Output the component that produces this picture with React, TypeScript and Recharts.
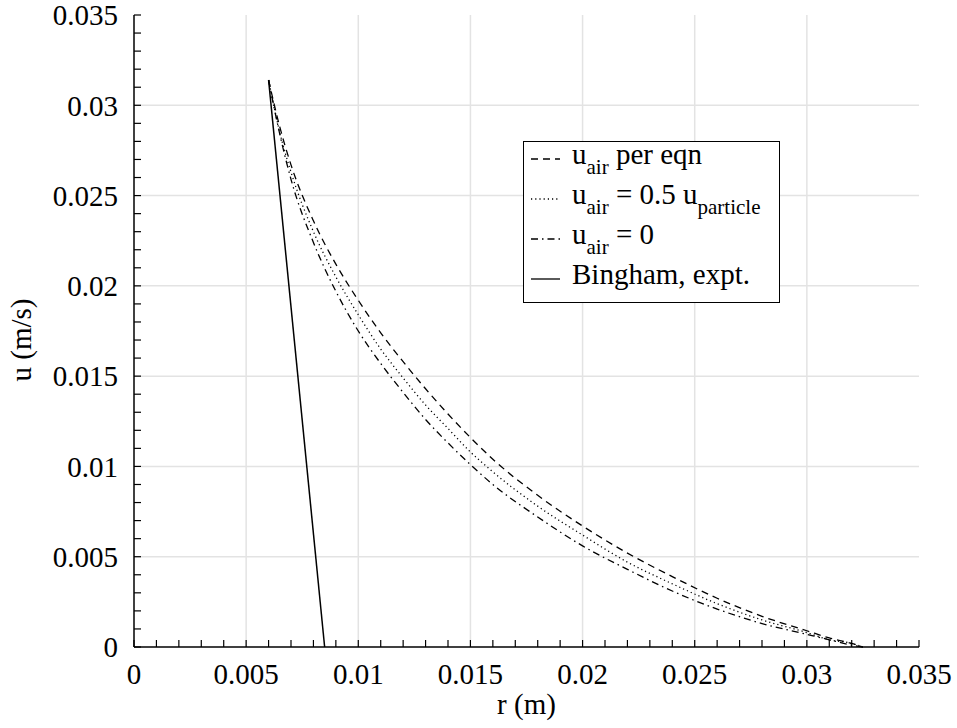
import React from 'react'
import { LineChart, Line, XAxis, YAxis, ReferenceLine } from 'recharts'

// radius values (m) shared by the three model curves
const radius = [0.006, 0.0065, 0.007, 0.008, 0.009, 0.01, 0.011, 0.012, 0.013, 0.014, 0.015, 0.016, 0.018, 0.02, 0.022, 0.024, 0.026, 0.028, 0.03, 0.031, 0.032, 0.0325]
const uAirPerEqn = [0.0314, 0.0288, 0.0267, 0.0236, 0.0212, 0.0192, 0.0174, 0.0158, 0.0143, 0.0129, 0.0116, 0.0104, 0.0084, 0.0067, 0.0052, 0.0039, 0.0027, 0.0017, 0.0009, 0.0005, 0.0002, 0]
const uAirHalf = [0.0314, 0.0285, 0.0263, 0.023, 0.0205, 0.0184, 0.0165, 0.0149, 0.0134, 0.0121, 0.0108, 0.0097, 0.0078, 0.0062, 0.0047, 0.0035, 0.0024, 0.0015, 0.0008, 0.0004, 0.0002, 0]
const uAirZero = [0.0314, 0.0284, 0.0259, 0.0224, 0.0197, 0.0175, 0.0157, 0.0141, 0.0126, 0.0113, 0.0101, 0.009, 0.0072, 0.0056, 0.0043, 0.0031, 0.0021, 0.0013, 0.0007, 0.0004, 0.0001, 0]
const binghamR = [0.006, 0.0085]
const binghamU = [0.0314, 0]

const majorTicks = [0, 0.005, 0.01, 0.015, 0.02, 0.025, 0.03, 0.035]
const majorLabels = ['0', '0.005', '0.01', '0.015', '0.02', '0.025', '0.03', '0.035']
const gridTicks = [0.005, 0.01, 0.015, 0.02, 0.025, 0.03]
const minorTicks = Array.from({ length: 36 }, (_, i) => i / 1000)

const FONT = "'Liberation Serif', 'DejaVu Serif', serif"

const toPoints = (xs: number[], ys: number[]) => xs.map((r, i) => ({ r, u: ys[i] }))

const fmt = (v: number) => {
  const i = majorTicks.findIndex((t) => Math.abs(t - v) < 1e-9)
  return i >= 0 ? majorLabels[i] : ''
}

const tickStyle = { fill: '#000', fontSize: 29, fontFamily: FONT }

const legendRows = [
  { dash: '7 5', main: 'u', sub: 'air', rest: ' per eqn', sub2: '' },
  { dash: '1.2 3', main: 'u', sub: 'air', rest: ' = 0.5 u', sub2: 'particle' },
  { dash: '7 4 1.5 4', main: 'u', sub: 'air', rest: ' = 0', sub2: '' },
  { dash: '', main: 'Bingham, expt.', sub: '', rest: '', sub2: '' },
]

function YLabel() {
  return (
    <text x={31} y={340} transform="rotate(-90, 31, 340)" textAnchor="middle" fill="#000" fontSize={29} fontFamily={FONT}>
      u (m/s)
    </text>
  )
}

export default function App() {
  return (
    <div style={{ position: 'absolute', left: 0, top: 0, width: 957, height: 728, background: '#fff', fontFamily: FONT }}>
      <LineChart width={957} height={728} margin={{ top: 15, right: 38, left: 0, bottom: 0 }}>
        {gridTicks.map((t) => (
          <ReferenceLine key={'gx' + t} x={t} stroke="#e3e3e3" strokeWidth={1.5} />
        ))}
        {gridTicks.map((t) => (
          <ReferenceLine key={'gy' + t} y={t} stroke="#e3e3e3" strokeWidth={1.5} />
        ))}
        <XAxis
          dataKey="r"
          type="number"
          domain={[0, 0.035]}
          ticks={minorTicks}
          interval={0}
          tickFormatter={fmt}
          tickSize={-7}
          tickMargin={23}
          height={81}
          tick={tickStyle}
          axisLine={{ stroke: '#000', strokeWidth: 1.5 }}
          tickLine={{ stroke: '#000', strokeWidth: 1.2 }}
          label={{ value: 'r (m)', position: 'insideBottom', offset: 14, fill: '#000', fontSize: 29, fontFamily: FONT }}
        />
        <XAxis
          xAxisId="top"
          orientation="top"
          dataKey="r"
          type="number"
          domain={[0, 0.035]}
          ticks={minorTicks}
          interval={0}
          tick={false}
          tickSize={-7}
          height={0}
          axisLine={{ stroke: '#000', strokeWidth: 1.5 }}
          tickLine={{ stroke: '#000', strokeWidth: 1.2 }}
        />
        <YAxis
          type="number"
          domain={[0, 0.035]}
          ticks={minorTicks}
          interval={0}
          tickFormatter={fmt}
          tickSize={-7}
          tickMargin={23}
          width={134}
          tick={tickStyle}
          axisLine={{ stroke: '#000', strokeWidth: 1.5 }}
          tickLine={{ stroke: '#000', strokeWidth: 1.2 }}
          label={<YLabel />}
        />
        <YAxis
          yAxisId="right"
          orientation="right"
          type="number"
          domain={[0, 0.035]}
          ticks={minorTicks}
          interval={0}
          tick={false}
          tickSize={-7}
          width={0}
          axisLine={{ stroke: '#000', strokeWidth: 1.5 }}
          tickLine={{ stroke: '#000', strokeWidth: 1.2 }}
        />
        <Line data={toPoints(radius, uAirPerEqn)} dataKey="u" type="monotone" stroke="#000" strokeWidth={1.3} strokeDasharray="7 5" dot={false} activeDot={false} isAnimationActive={false} />
        <Line data={toPoints(radius, uAirHalf)} dataKey="u" type="monotone" stroke="#000" strokeWidth={1.3} strokeDasharray="1.2 3" dot={false} activeDot={false} isAnimationActive={false} />
        <Line data={toPoints(radius, uAirZero)} dataKey="u" type="monotone" stroke="#000" strokeWidth={1.3} strokeDasharray="7 4 1.5 4" dot={false} activeDot={false} isAnimationActive={false} />
        <Line data={toPoints(binghamR, binghamU)} dataKey="u" type="linear" stroke="#000" strokeWidth={1.5} dot={false} activeDot={false} isAnimationActive={false} />
      </LineChart>
      <div
        style={{
          position: 'absolute',
          left: 523,
          top: 141,
          width: 257,
          height: 162,
          boxSizing: 'border-box',
          border: '1.5px solid #000',
          background: '#fff',
          paddingLeft: 7,
          overflow: 'visible',
        }}
      >
        <div style={{ position: 'relative', top: -4 }}>
          {legendRows.map((row, i) => (
            <div key={i} style={{ height: 40, lineHeight: '32px', fontSize: 29, whiteSpace: 'nowrap' }}>
              <svg width={29} height={10} style={{ verticalAlign: 'middle', marginRight: 12 }}>
                <line x1={0} y1={7} x2={29} y2={7} stroke="#000" strokeWidth={1.3} strokeDasharray={row.dash || undefined} />
              </svg>
              {row.main}
              {row.sub && <span style={{ fontSize: 21, verticalAlign: '-10px' }}>{row.sub}</span>}
              {row.rest}
              {row.sub2 && <span style={{ fontSize: 21, verticalAlign: '-10px' }}>{row.sub2}</span>}
            </div>
          ))}
        </div>
      </div>
    </div>
  )
}
